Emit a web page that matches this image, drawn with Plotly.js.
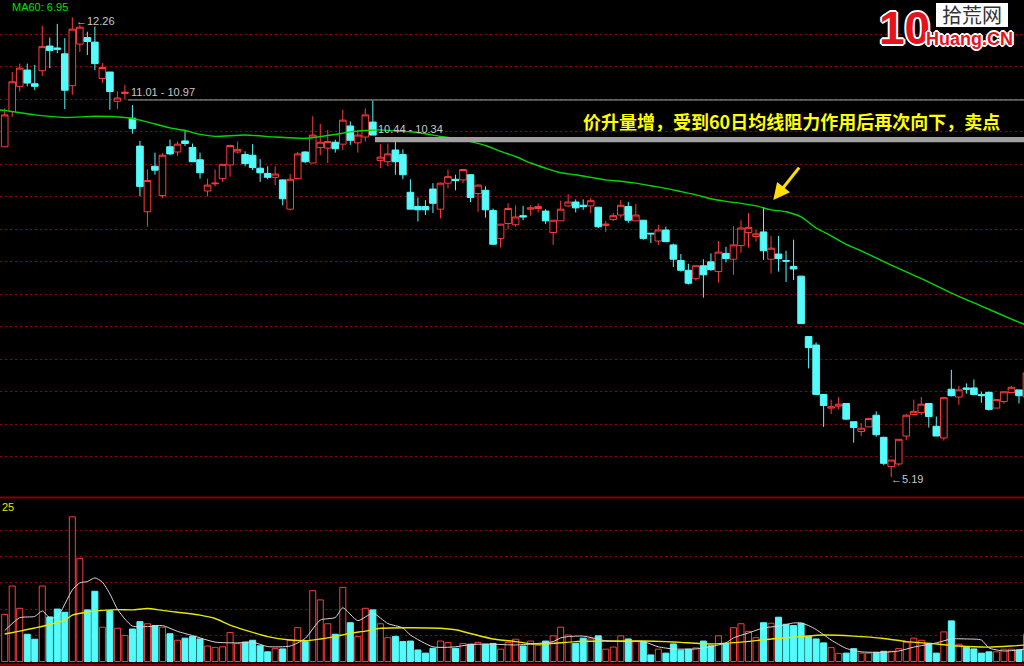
<!DOCTYPE html>
<html><head><meta charset="utf-8">
<script src="https://cdn.plot.ly/plotly-3.0.1.min.js"></script>
<style>html,body{margin:0;padding:0;background:#000;}#chart{width:1024px;height:666px;}</style>
</head><body><div id="chart"></div>
<script>
// ---- price data (index 0..136) ----
const openP = [10.27,10.81,11.20,11.45,11.24,11.44,11.82,11.79,11.70,11.21,11.85,11.95,11.88,11.32,11.42,10.97,11.09,10.71,10.28,9.27,
9.97,9.52,10.27,10.19,10.36,10.26,10.07,9.59,9.70,9.78,9.99,10.19,10.15,10.14,9.94,9.86,9.80,9.76,9.31,9.78,
10.19,10.02,10.26,10.25,10.34,10.31,10.59,10.33,10.42,10.65,10.06,10.04,10.22,10.15,9.57,9.35,9.35,9.62,9.31,9.71,
9.77,9.76,9.84,9.55,9.60,9.29,8.86,9.09,9.07,9.21,9.31,9.32,9.28,8.95,9.13,9.36,9.42,9.37,9.36,9.34,
9.06,9.15,9.22,9.35,9.13,9.14,8.94,8.82,8.99,8.76,8.52,8.37,8.24,8.44,8.50,8.35,8.63,8.54,8.75,8.95,
8.89,8.96,8.54,8.62,8.52,8.43,8.28,7.35,7.22,6.46,6.25,6.28,6.32,6.04,5.89,5.96,6.14,5.80,5.35,5.39,
5.82,6.15,6.18,6.32,5.97,5.79,6.54,6.42,6.56,6.56,6.46,6.49,6.25,6.35,6.49,6.53,6.42];
const highP = [10.86,11.42,11.55,11.55,11.53,12.13,11.95,12.16,11.94,12.26,12.14,12.04,12.12,11.56,11.42,11.12,11.22,10.91,10.36,9.92,
10.18,10.17,10.38,10.35,10.52,10.32,10.18,9.78,9.92,10.00,10.30,10.35,10.20,10.31,10.08,9.97,9.97,9.77,9.85,10.19,
10.20,10.74,10.62,10.53,10.38,10.84,10.66,10.52,10.86,10.98,10.31,10.32,10.35,10.23,9.77,9.49,9.45,9.71,9.72,9.92,
9.84,9.93,9.85,9.69,9.66,9.32,9.08,9.40,9.37,9.36,9.37,9.40,9.31,9.14,9.44,9.54,9.46,9.46,9.48,9.34,
9.13,9.25,9.45,9.42,9.39,9.14,8.94,9.07,9.04,8.78,8.62,8.47,8.44,8.54,8.63,8.82,8.73,9.05,9.14,9.25,
8.99,9.34,8.90,8.90,8.67,8.84,8.28,7.35,7.26,6.46,6.38,6.42,6.32,6.04,6.02,6.09,6.20,5.81,5.45,5.77,
6.16,6.38,6.42,6.33,6.12,6.42,6.84,6.59,6.63,6.69,6.50,6.51,6.39,6.51,6.59,6.53,6.80];
const lowP = [10.27,10.73,11.12,11.20,11.14,11.36,11.48,11.71,10.85,11.07,11.73,11.68,11.45,11.25,10.84,10.85,11.00,10.47,9.51,9.04,
9.84,9.48,10.14,10.13,10.28,10.04,9.78,9.51,9.66,9.73,9.81,10.17,9.97,9.91,9.73,9.77,9.68,9.37,9.29,9.78,
10.02,10.02,10.14,10.02,10.18,10.22,10.30,10.18,10.35,10.45,9.94,9.97,9.84,9.77,9.31,9.12,9.22,9.25,9.17,9.63,
9.60,9.71,9.42,9.27,9.18,8.77,8.72,9.00,9.04,9.14,9.21,9.26,9.08,8.76,9.13,9.34,9.26,9.30,9.25,9.02,
8.96,9.13,9.18,9.10,9.13,8.84,8.79,8.76,8.81,8.42,8.35,8.15,8.21,7.95,8.36,8.18,8.49,8.30,8.64,8.72,
8.81,8.53,8.32,8.35,8.19,8.22,7.55,6.86,6.46,5.96,6.16,6.23,6.07,5.72,5.82,5.96,5.81,5.37,5.19,5.36,
5.76,6.15,6.14,5.95,5.82,5.75,6.43,6.30,6.47,6.46,6.33,6.21,6.25,6.32,6.49,6.32,6.42];
const closeP = [10.76,11.27,11.48,11.25,11.20,11.81,11.75,11.77,11.14,12.08,12.11,11.89,11.55,11.49,11.12,11.02,11.11,10.55,9.66,9.75,
9.91,10.14,10.16,10.31,10.32,10.04,9.87,9.68,9.71,10.00,10.29,10.23,10.01,9.95,9.87,9.80,9.85,9.47,9.77,10.16,
10.04,10.45,10.34,10.35,10.24,10.68,10.37,10.45,10.76,10.45,10.11,10.16,10.04,9.84,9.31,9.30,9.30,9.40,9.71,9.81,
9.75,9.92,9.49,9.68,9.30,8.77,9.08,9.32,9.19,9.19,9.33,9.35,9.13,9.14,9.31,9.42,9.33,9.35,9.44,9.04,
9.08,9.21,9.37,9.14,9.22,8.86,8.93,8.99,8.81,8.54,8.37,8.17,8.44,8.30,8.38,8.65,8.55,8.76,9.02,9.03,
8.93,8.67,8.71,8.55,8.51,8.39,7.55,7.18,6.46,6.29,6.27,6.31,6.08,5.95,5.94,6.09,5.84,5.40,5.45,5.77,
6.14,6.20,6.31,6.12,5.82,6.41,6.44,6.53,6.54,6.46,6.44,6.23,6.38,6.50,6.57,6.44,6.79];
const volume = [1.80,2.88,2.03,1.04,0.85,2.88,1.70,2.00,1.88,5.52,3.94,1.97,2.68,1.31,1.94,1.27,0.99,1.24,1.52,1.44,
1.37,1.31,1.06,0.81,0.89,0.96,0.86,0.59,0.53,0.56,1.11,0.68,0.74,0.81,0.60,0.37,0.49,0.48,0.81,1.29,
0.76,2.70,2.35,1.44,1.04,2.83,1.48,0.95,2.03,1.97,1.44,0.91,0.96,0.76,0.78,0.44,0.32,0.50,0.78,0.73,
0.50,0.69,0.66,0.73,0.66,0.69,0.47,0.73,0.85,0.59,0.78,0.62,0.78,0.98,1.31,1.01,0.69,0.89,0.86,0.98,
0.47,0.55,0.98,0.86,0.76,0.76,0.25,0.47,0.32,0.67,0.43,0.47,0.52,0.78,0.60,0.98,0.68,1.29,1.44,1.15,
0.91,1.48,1.46,1.69,1.42,1.37,1.46,0.96,0.86,0.71,0.53,0.31,0.32,0.49,0.32,0.32,0.35,0.39,0.39,0.49,
0.74,0.89,0.81,0.69,0.32,1.13,1.55,0.66,0.54,0.48,0.32,0.37,0.37,0.47,0.47,0.44,1.04];
// ---- MA60 of price, read at sampled candles ----
const ma60Idx = [-1,0,4,8,12,16,18,20,22,24,26,28,32,36,40,44,46,48,50,52,54,56,58,60,62,64,66,68,70,72,74,76,78,80,82,84,86,88,90,92,94,96,98,100,102,104,106,108,110,112,114,118,122,126,130,134,137];
const ma60Val = [10.84,10.83,10.76,10.72,10.74,10.72,10.68,10.62,10.56,10.52,10.46,10.43,10.45,10.42,10.40,10.46,10.50,10.52,10.53,10.51,10.50,10.47,10.43,10.40,10.35,10.29,10.20,10.12,10.02,9.94,9.87,9.84,9.80,9.76,9.74,9.71,9.67,9.63,9.58,9.53,9.47,9.43,9.40,9.36,9.30,9.27,9.19,9.02,8.90,8.77,8.67,8.45,8.24,8.02,7.82,7.62,7.48];
// ---- volume moving averages ----
const volMaWIdx = [0,2,4,5,6,7,9,10,11,12,13,14,15,16,17,19,21,23,25,28,31,33,35,38,40,42,44,45,47,49,51,53,54,57,60,62,65,68,71,73,74,75,77,80,82,85,87,89,92,94,96,97,99,101,103,105,106,107,108,110,112,114,117,119,121,124,126,128,130,131,133,136];
const volMaWVal = [1.18,1.67,1.72,1.93,1.67,1.70,2.73,3.00,3.05,3.19,3.03,2.58,2.00,1.62,1.35,1.33,1.37,1.15,0.99,0.74,0.71,0.74,0.57,0.59,0.88,1.58,1.68,2.05,1.56,1.84,1.45,1.28,1.01,0.56,0.56,0.65,0.66,0.63,0.69,0.76,0.90,0.95,0.97,0.79,0.76,0.76,0.56,0.48,0.48,0.57,0.71,0.90,1.09,1.28,1.35,1.47,1.47,1.37,1.22,0.82,0.50,0.37,0.35,0.40,0.55,0.71,0.86,0.86,0.82,0.52,0.40,0.48];
const volMaYIdx = [0,2,4,6,8,9,11,13,15,17,19,21,23,26,28,30,32,35,38,40,42,44,46,48,50,54,58,60,62,65,68,70,72,76,80,85,88,90,94,98,102,106,109,113,117,120,124,127,131,134,136];
const volMaYVal = [1.05,1.16,1.28,1.41,1.58,1.77,1.89,1.95,1.98,1.97,2.02,1.95,1.88,1.77,1.64,1.39,1.20,0.95,0.82,0.79,0.86,0.95,1.08,1.16,1.27,1.29,1.27,1.21,1.07,0.86,0.76,0.68,0.67,0.76,0.78,0.78,0.76,0.73,0.67,0.74,0.86,0.95,1.01,0.97,0.88,0.76,0.67,0.59,0.55,0.59,0.63];
// ---- marked levels / labels ----
const levelLine = [11.01, 10.97];
const levelBand = [10.44, 10.34];
const highLabel = '12.26', lowLabel = '5.19';
const ma60Label = 'MA60: 6.95';
const volLabel = '25';
const noteText = '价升量增，受到60日均线阻力作用后再次向下，卖点';

const idx = openP.map((_, i) => i);
const UP = '#ff3b3b', DN = '#54fcfc';
const isUp = idx.map(i => closeP[i] >= openP[i]);

const W = 1024, H = 666;
const px = x => x / W, py = y => 1 - y / H;
const priceTicks = [5.5,6,6.5,7,7.5,8,8.5,9,9.5,10,10.5,11,11.5,12];

const traces = [
  {type:'candlestick', x: idx, open: openP, high: highP, low: lowP, close: closeP,
   xaxis:'x', yaxis:'y', hoverinfo:'skip', whiskerwidth:0,
   increasing:{line:{color:UP, width:1}, fillcolor:'#000000'},
   decreasing:{line:{color:DN, width:1}, fillcolor:DN}},
  {type:'scatter', mode:'lines', x: ma60Idx, y: ma60Val, xaxis:'x', yaxis:'y',
   line:{color:'#00d800', width:1.4, shape:'spline', smoothing:0.6}, hoverinfo:'skip'},
  {type:'bar', x: idx, y: volume, xaxis:'x', yaxis:'y2', width:0.8, hoverinfo:'skip',
   marker:{color: idx.map(i => isUp[i] ? '#000000' : DN),
           line:{color: idx.map(i => isUp[i] ? UP : DN), width:1}}},
  {type:'scatter', mode:'lines', x: volMaYIdx, y: volMaYVal, xaxis:'x', yaxis:'y2',
   line:{color:'#e6e600', width:1.4, shape:'spline', smoothing:0.6}, hoverinfo:'skip'},
  {type:'scatter', mode:'lines', x: volMaWIdx, y: volMaWVal, xaxis:'x', yaxis:'y2',
   line:{color:'#d8d8d8', width:1, shape:'spline', smoothing:0.6}, hoverinfo:'skip'}
];

const outline = '1px 1px 0 #fff, -1px -1px 0 #fff, 1px -1px 0 #fff, -1px 1px 0 #fff, 2px 0 0 #fff, -2px 0 0 #fff, 0 2px 0 #fff, 0 -2px 0 #fff';
const lblFont = {family:'Liberation Sans, Arial, sans-serif', size:11, color:'#c8c8c8'};
const mid = (levelLine[0] + levelLine[1]) / 2;
const bandTop = 10.42;

const layout = {
  width: W, height: H, margin:{l:0,r:0,t:0,b:0},
  paper_bgcolor:'#000', plot_bgcolor:'#000', showlegend:false,
  boxgap:0.12, boxgroupgap:0, bargap:0.2,
  xaxis:{range:[-0.626, 135.67], showgrid:false, zeroline:false, showticklabels:false, ticks:'', fixedrange:true,
         rangeslider:{visible:false}},
  yaxis:{domain:[py(497), 1], range:[4.882, 12.528], tickvals: priceTicks, showticklabels:false, ticks:'',
         gridcolor:'#9a0000', griddash:'2px,3px', gridwidth:1, zeroline:false},
  yaxis2:{domain:[0, py(498)], range:[-0.172, 6.24], tickvals:[1,2,3,4,5], showticklabels:false, ticks:'',
          gridcolor:'#9a0000', griddash:'2px,3px', gridwidth:1, zeroline:false},
  shapes:[
    {type:'line', xref:'paper', yref:'y', x0:px(128), x1:1, y0:mid, y1:mid, line:{color:'#a8a8a8', width:1}},
    {type:'rect', xref:'paper', yref:'y', x0:px(375), x1:1, y0:levelBand[1], y1:bandTop, fillcolor:'#a0a0a0', line:{width:0}},
    {type:'line', xref:'paper', yref:'paper', x0:0, x1:1, y0:py(497.5), y1:py(497.5), line:{color:'#8a0000', width:2}},
    {type:'line', xref:'paper', yref:'paper', x0:0, x1:1, y0:py(664.5), y1:py(664.5), line:{color:'#8a0000', width:2}},
    {type:'rect', xref:'paper', yref:'paper', x0:px(936), x1:px(1008), y0:py(27), y1:py(3), fillcolor:'#ffffff', line:{width:0}}
  ],
  annotations:[
    {xref:'paper', yref:'paper', x:px(10), y:py(7), xanchor:'left', yanchor:'middle', showarrow:false,
     text: ma60Label, font:{family:'Liberation Sans, Arial, sans-serif', size:11, color:'#00e000'}},
    {xref:'paper', yref:'paper', x:px(0), y:py(507), xanchor:'left', yanchor:'middle', showarrow:false,
     text: volLabel, font:{family:'Liberation Sans, Arial, sans-serif', size:11, color:'#e6e600'}},
    {xref:'paper', yref:'paper', x:px(74), y:py(21), xanchor:'left', yanchor:'middle', showarrow:false,
     text: '←' + highLabel, font: lblFont},
    {xref:'paper', yref:'paper', x:px(889), y:py(479), xanchor:'left', yanchor:'middle', showarrow:false,
     text: '←' + lowLabel, font: lblFont},
    {xref:'paper', yref:'paper', x:px(129), y:py(92), xanchor:'left', yanchor:'middle', showarrow:false,
     text: levelLine[0].toFixed(2) + ' - ' + levelLine[1].toFixed(2), font: lblFont},
    {xref:'paper', yref:'paper', x:px(376), y:py(129), xanchor:'left', yanchor:'middle', showarrow:false,
     text: levelBand[0].toFixed(2) + ' - ' + levelBand[1].toFixed(2), font: lblFont},
    {xref:'paper', yref:'paper', x:px(791), y:py(121), xanchor:'center', yanchor:'middle', showarrow:false,
     text: noteText, font:{family:'Noto Sans CJK SC, sans-serif', size:18, color:'#ffff00', weight:'bold'}},
    {xref:'x', yref:'y', x:102.3, y:9.45, ax:27, ay:-34, showarrow:true, arrowhead:2, arrowsize:1.1, arrowwidth:3,
     arrowcolor:'#ffe000', text:''},
    {xref:'paper', yref:'paper', x:px(904), y:py(28), xanchor:'center', yanchor:'middle', showarrow:false,
     text:'10', font:{family:'Liberation Sans Narrow, Liberation Sans, sans-serif', size:46, color:'#e5131b', weight:'bold', shadow: outline}},
    {xref:'paper', yref:'paper', x:px(972), y:py(15), xanchor:'center', yanchor:'middle', showarrow:false,
     text:'拾荒网', font:{family:'Noto Sans CJK SC, sans-serif', size:20, color:'#333333'}},
    {xref:'paper', yref:'paper', x:px(969), y:py(39), xanchor:'center', yanchor:'middle', showarrow:false,
     text:'Huang.CN', font:{family:'Liberation Sans, Arial, sans-serif', size:18, color:'#e5131b', weight:'bold', shadow: outline}}
  ]
};
Plotly.newPlot('chart', traces, layout, {staticPlot:true, displayModeBar:false});
</script></body></html>
